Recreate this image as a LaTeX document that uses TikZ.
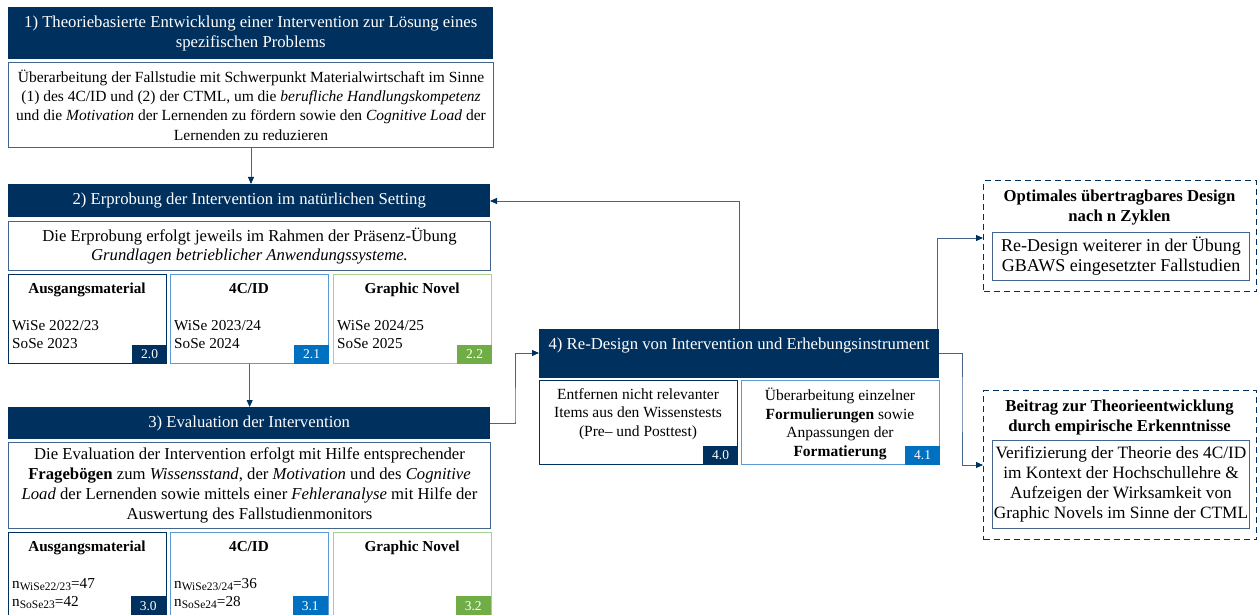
\documentclass[tikz,border=0pt]{standalone}
\usepackage{fontspec}
\setmainfont{Liberation Serif}
\usetikzlibrary{arrows.meta}
\definecolor{navy}{RGB}{0,48,94}
\definecolor{steel}{RGB}{68,100,140}
\definecolor{bblue}{RGB}{0,112,192}
\definecolor{lblue}{RGB}{91,155,213}
\definecolor{bgreen}{RGB}{112,173,71}
\definecolor{lgreen}{RGB}{169,209,142}
\newcommand{\nsub}[1]{\raisebox{-0.35ex}{\fontsize{11.5}{11.5}\selectfont #1}}
\tikzset{
  x=1pt, y=-1pt,
  mainfont/.style={font=\fontsize{16.7}{19.8}\selectfont},
  hdr/.style={fill=navy, text=white, inner sep=0pt, anchor=north west, align=center, mainfont},
  bodybox/.style={draw=steel, line width=1pt, fill=white, inner sep=0pt, anchor=north west, align=center, mainfont},
  subA/.style={draw=navy, line width=1.3pt, inner sep=0pt, anchor=north west},
  subB/.style={draw=lblue, line width=1.3pt, inner sep=0pt, anchor=north west},
  subC/.style={draw=lgreen, line width=1.3pt, inner sep=0pt, anchor=north west},
  badge/.style={text=white, minimum width=35pt, minimum height=19pt, inner sep=0pt, anchor=south east, font=\fontsize{13.5}{13.5}\selectfont},
  subtitle/.style={font=\fontsize{15.2}{18}\selectfont\bfseries, anchor=base, inner sep=0pt},
  subtext/.style={font=\fontsize{15.2}{18}\selectfont, anchor=base west, inner sep=0pt, align=left},
  smalltext/.style={font=\fontsize{15.5}{18.5}\selectfont, inner sep=0pt, align=center},
  dtitle/.style={font=\fontsize{16.7}{19.5}\selectfont\bfseries, align=center, inner sep=0pt, anchor=north},
  dashbox/.style={draw=navy, dashed, dash pattern=on 6pt off 4pt, line width=1.3pt, inner sep=0pt, anchor=north west},
  conn/.style={draw=steel, line width=0.9pt, -{Triangle[length=7pt,width=6pt,color=navy]}},
}
\begin{document}
\begin{tikzpicture}
\useasboundingbox (0,0) rectangle (1259,615);
% ---- Block 1
\node[hdr, minimum width=485pt, minimum height=52pt] (h1) at (8,7)
  {1) Theoriebasierte Entwicklung einer Intervention zur Lösung eines\\spezifischen Problems};
\node[bodybox, minimum width=485pt, minimum height=85pt, font=\fontsize{15.5}{19.2}\selectfont] (b1) at (8,62)
  {Überarbeitung der Fallstudie mit Schwerpunkt Materialwirtschaft im Sinne\\(1) des 4C/ID und (2) der CTML, um die \textit{berufliche Handlungskompetenz}\\und die \textit{Motivation} der Lernenden zu fördern sowie den \textit{Cognitive Load} der\\Lernenden zu reduzieren};
% ---- Block 2
\node[hdr, minimum width=482pt, minimum height=33pt] (h2) at (8,184)
  {2) Erprobung der Intervention im natürlichen Setting};
\node[bodybox, minimum width=482pt, minimum height=49pt] (b2) at (8,221)
  {Die Erprobung erfolgt jeweils im Rahmen der Präsenz-Übung\\\textit{Grundlagen betrieblicher Anwendungssysteme.}};
\node[subA, minimum width=158pt, minimum height=89pt] (s20) at (8,274) {};
\node[subB, minimum width=158pt, minimum height=89pt] (s21) at (170,274) {};
\node[subC, minimum width=158pt, minimum height=89pt] (s22) at (333,274) {};
\node[badge, fill=navy] (k20) at (s20.south east) {2.0};
\node[badge, fill=bblue] (k21) at (s21.south east) {2.1};
\node[badge, fill=bgreen] (k22) at (s22.south east) {2.2};
\node[subtitle] (t20) at (87,293) {Ausgangsmaterial};
\node[subtitle] (t21) at (249,293) {4C/ID};
\node[subtitle] (t22) at (412,293) {Graphic Novel};
\node[subtext] (w20) at (12,348) {WiSe 2022/23\\SoSe 2023};
\node[subtext] (w21) at (174,348) {WiSe 2023/24\\SoSe 2024};
\node[subtext] (w22) at (337,348) {WiSe 2024/25\\SoSe 2025};
% ---- Block 3
\node[hdr, minimum width=482pt, minimum height=32pt] (h3) at (8,407)
  {3) Evaluation der Intervention};
\node[bodybox, minimum width=482pt, minimum height=86pt] (b3) at (8,442)
  {Die Evaluation der Intervention erfolgt mit Hilfe entsprechender\\\textbf{Fragebögen} zum \textit{Wissensstand}, der \textit{Motivation} und des \textit{Cognitive}\\\textit{Load} der Lernenden sowie mittels einer \textit{Fehleranalyse} mit Hilfe der\\Auswertung des Fallstudienmonitors};
\node[subA, minimum width=158pt, minimum height=90pt] (s30) at (8,532) {};
\node[subB, minimum width=158pt, minimum height=90pt] (s31) at (170,532) {};
\node[subC, minimum width=158pt, minimum height=90pt] (s32) at (333,532) {};
\node[badge, fill=navy] (k30) at (166,615.5) {3.0};
\node[badge, fill=bblue] (k31) at (328,615.5) {3.1};
\node[badge, fill=bgreen] (k32) at (491,615.5) {3.2};
\node[subtitle] (t30) at (87,551) {Ausgangsmaterial};
\node[subtitle] (t31) at (249,551) {4C/ID};
\node[subtitle] (t32) at (412,551) {Graphic Novel};
\node[subtext] (n30) at (12,606) {n\nsub{WiSe22/23}=47\\n\nsub{SoSe23}=42};
\node[subtext] (n31) at (174,606) {n\nsub{WiSe23/24}=36\\n\nsub{SoSe24}=28};
% ---- Block 4
\node[hdr, minimum width=400pt, minimum height=49pt] (h4) at (539,329) {};
\node[mainfont, text=white, inner sep=0pt] (h4t) at (739,346) {4) Re-Design von Intervention und Erhebungsinstrument};
\node[subA, minimum width=198pt, minimum height=84pt] (s40) at (539,380) {};
\node[subB, minimum width=198pt, minimum height=84pt] (s41) at (741,380) {};
\node[badge, fill=navy] (k40) at (s40.south east) {4.0};
\node[badge, fill=bblue] (k41) at (s41.south east) {4.1};
\node[smalltext, anchor=north] (x40) at (638,388) {Entfernen nicht relevanter\\Items aus den Wissenstests\\(Pre– und Posttest)};
\node[smalltext, anchor=north] (x41) at (840,388) {Überarbeitung einzelner\\\textbf{Formulierungen} sowie\\Anpassungen der\\\textbf{Formatierung}};
% ---- Outcome boxes
\node[dashbox, minimum width=273pt, minimum height=111pt] (d1) at (983,180) {};
\node[dtitle] (d1t) at (1119.5,190) {Optimales übertragbares Design\\nach n Zyklen};
\node[bodybox, minimum width=257pt, minimum height=48pt, font=\fontsize{18}{20}\selectfont] (d1i) at (992,232)
  {Re-Design weiterer in der Übung\\GBAWS eingesetzter Fallstudien};
\node[dashbox, minimum width=273pt, minimum height=149pt] (d2) at (983,390) {};
\node[dtitle] (d2t) at (1119.5,400) {Beitrag zur Theorieentwicklung\\durch empirische Erkenntnisse};
\node[bodybox, minimum width=257pt, minimum height=88pt, font=\fontsize{17.3}{20}\selectfont] (d2i) at (992,440)
  {Verifizierung der Theorie des 4C/ID\\im Kontext der Hochschullehre \&\\Aufzeigen der Wirksamkeit von\\Graphic Novels im Sinne der CTML};
% ---- Connectors
\coordinate (h2e) at (490,201);
\coordinate (h4w) at (539,353);
\coordinate (d1w) at (983,238);
\coordinate (d2w) at (983,465);
\draw[conn] (b1.south) -- (b1.south |- h2.north);
\draw[conn] (s21.south) -- (s21.south |- h3.north);
\draw[conn] (h3.east) -| (515,421) |- (h4w);
\draw[conn] (739,329) |- (h2e);
\draw[conn] (937,329) |- (d1w);
\draw[conn] (h4.east |- h4w) -| (962,400) |- (d2w);
\end{tikzpicture}
\end{document}
